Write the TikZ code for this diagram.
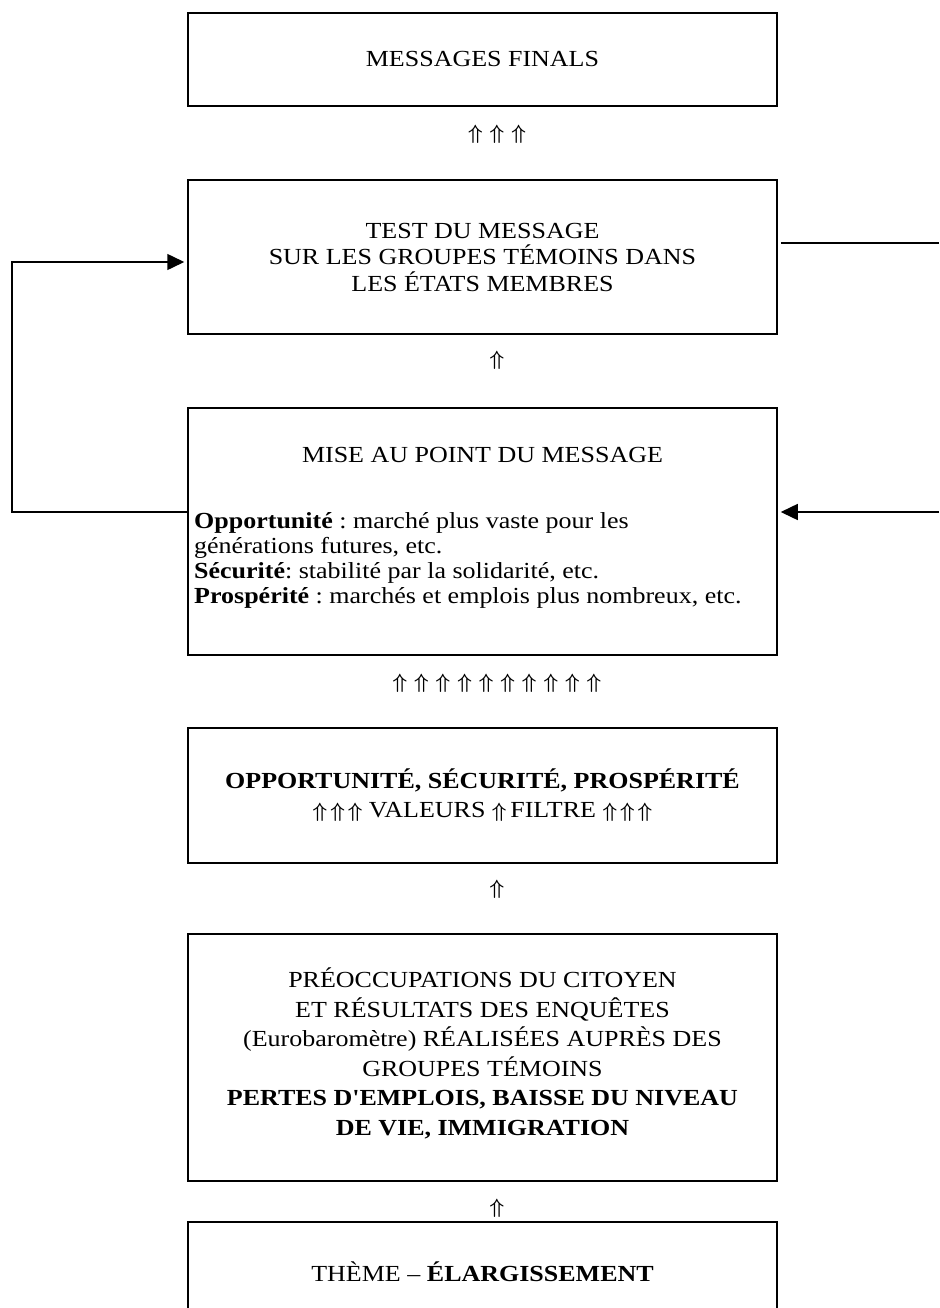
\documentclass[tikz,border=0pt]{standalone}
\usepackage{fontspec}
\setmainfont{Liberation Serif}[Ligatures=TeXOff, FakeStretch=1.13]
\usetikzlibrary{arrows.meta}
\frenchspacing
\newcommand{\upa}{{\fontsize{22}{22}\selectfont\boldmath$\Uparrow$}}
\begin{document}
\begin{tikzpicture}[x=1pt,y=-1pt,
  box/.style={draw, line width=1.5pt, minimum width=589pt, inner sep=0pt, align=center,
              font=\fontsize{23}{26}\selectfont},
  txt/.style={inner sep=0pt, font=\fontsize{23}{24}\selectfont},
  arr/.style={inner sep=0pt},
  conn/.style={line width=1.5pt},
  tip/.style={-{Triangle[length=17pt,width=16pt]}, shorten >=3pt},
]
\clip (0,0) rectangle (939,1308);
\fill[white] (0,0) rectangle (939,1308);

\node[box, minimum height=93pt] (B1) at (482.5,59.5) {MESSAGES FINALS};

\node[arr] (a1) at (497,134) {\upa\hspace{7pt}\upa\hspace{7pt}\upa};

\node[box, minimum height=154pt, font=\fontsize{23}{26.5}\selectfont] (B2) at (482.5,257)
  {TEST DU MESSAGE\\ SUR LES GROUPES TÉMOINS DANS\\ LES ÉTATS MEMBRES};

\node[arr] (a2) at (497,360) {\upa};

\node[box, minimum height=247pt] (B3) at (482.5,531.5) {};
\node[txt] (B3t) at (482.5,455) {MISE AU POINT DU MESSAGE};
\node[txt, anchor=west, align=left] (B3b) at (194,560)
  {\textbf{Opportunité} : marché plus vaste pour les\\[1pt]
   générations futures, etc.\\[1pt]
   \textbf{Sécurité}: stabilité par la solidarité, etc.\\[1pt]
   \textbf{Prospérité} : marchés et emplois plus nombreux, etc.};

\node[arr] (a3) at (497,683) {\upa\hspace{7pt}\upa\hspace{7pt}\upa\hspace{7pt}\upa\hspace{7pt}\upa\hspace{7pt}\upa\hspace{7pt}\upa\hspace{7pt}\upa\hspace{7pt}\upa\hspace{7pt}\upa};

\node[box, minimum height=135pt, font=\fontsize{23}{29}\selectfont] (B4) at (482.5,795.5)
  {\textbf{OPPORTUNITÉ, SÉCURITÉ, PROSPÉRITÉ}\\
   \upa\hspace{3pt}\upa\hspace{3pt}\upa\ VALEURS \upa\,FILTRE \upa\hspace{3pt}\upa\hspace{3pt}\upa};

\node[arr] (a4) at (497,889) {\upa};

\node[box, minimum height=247pt, font=\fontsize{23}{29.5}\selectfont] (B5) at (482.5,1057.5)
  {PRÉOCCUPATIONS DU CITOYEN\\
   ET RÉSULTATS DES ENQUÊTES\\
   (Eurobaromètre) RÉALISÉES AUPRÈS DES\\
   GROUPES TÉMOINS\\
   \textbf{PERTES D'EMPLOIS, BAISSE DU NIVEAU}\\
   \textbf{DE VIE, IMMIGRATION}\\[-18pt]\mbox{}};

\node[arr] (a5) at (497,1208) {\upa};

\node[box, minimum height=100pt] (B6) at (482.5,1272) {THÈME – \textbf{ÉLARGISSEMENT}};

% feedback loop on the left
\coordinate (L1) at (12,512);
\coordinate (L2) at (12,262);
\draw[conn, tip] (L1 -| B3.west) -- (L1) -- (L2) -- (L2 -| B2.west);

% loop on the right (continues beyond the picture)
\coordinate (R1) at (939,243);
\coordinate (R2) at (939,512);
\draw[conn, shorten <=3pt] (R1 -| B2.east) -- (R1);
\draw[conn, tip] (R2) -- (R2 -| B3.east);
\end{tikzpicture}
\end{document}
